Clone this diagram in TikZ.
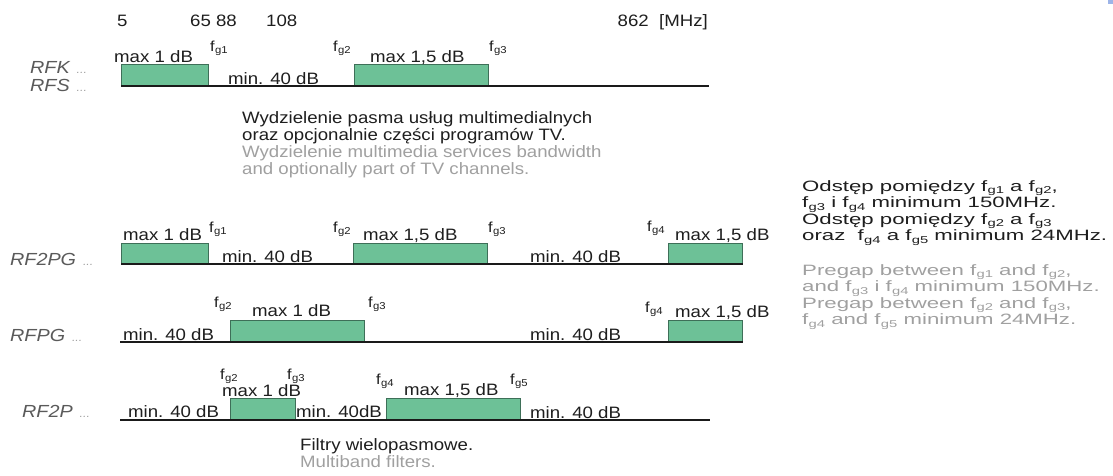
\documentclass[tikz,border=0pt]{standalone}
\usepackage{fontspec}
\setmainfont[FakeStretch=1.13]{Liberation Sans}
\newfontfamily\widefont[FakeStretch=1.48]{Liberation Sans}
\definecolor{ink}{HTML}{1E1E1E}
\definecolor{soft}{HTML}{A0A0A0}
\definecolor{rfc}{HTML}{5A5A5A}
\definecolor{bandfill}{HTML}{6DC197}
\definecolor{bandline}{HTML}{3E6F58}
\definecolor{axis}{HTML}{1A1A1A}
\definecolor{corner}{HTML}{9DB4E8}
\newcommand\fsub[1]{f\kern0.3pt\raisebox{-0.35ex}{\fontsize{10}{10}\selectfont g#1}}
\newcommand\rfdots{\textcolor{soft}{\fontsize{11}{11}\selectfont\ \ ...}}
\begin{document}
\begin{tikzpicture}[x=1pt,y=-1pt,
  tx/.style={anchor=base west,inner sep=0pt,text=ink,font=\fontsize{16.5}{18}\selectfont},
  sf/.style={tx,text=soft},
  nt/.style={anchor=base west,inner sep=0pt,text=ink,font=\widefont\fontsize{15}{17}\selectfont},
  nsf/.style={nt,text=soft},
  rflab/.style={anchor=base west,inner sep=0pt,text=rfc,font=\fontsize{17.5}{19}\selectfont\itshape},
  fl/.style={anchor=base west,inner sep=0pt,text=ink,font=\fontsize{14.5}{16}\selectfont},
  band/.style={draw=bandline,fill=bandfill,line width=0.7pt},
  axisline/.style={draw=axis,line width=2.6pt}]
\useasboundingbox (0,0) rectangle (1113,475);
\fill[corner] (1108,0) rectangle (1113,4);

% frequency scale
\node[tx] (n5) at (117,26) {5};
\node[tx] (n6588) at (190,26) {65 88};
\node[tx] (n108) at (266,26) {108};
\node[tx,anchor=base east] (n862) at (708,26) {862\ \ [MHz]};

% RFK / RFS
\node[rflab] (rfk) at (30,73) {RFK\rfdots};
\node[rflab] (rfs) at (30,91) {RFS\rfdots};
\draw[band] (121,64) rectangle (208,86);
\draw[band] (354,64) rectangle (488,86);
\coordinate (k0) at (121,86);
\coordinate (k1) at (709,86);
\draw[axisline] (k0) -- (k1);
\node[tx] (kmax1) at (114,62) {max 1 dB};
\node[fl] (kfg1) at (210,51) {\fsub1};
\node[tx] (kmin) at (228,84) {min. 40 dB};
\node[fl] (kfg2) at (333,51) {\fsub2};
\node[tx] (kmax2) at (370,62) {max 1,5 dB};
\node[fl] (kfg3) at (489,51) {\fsub3};

\node[tx] (pl1) at (242,123) {Wydzielenie pasma usług multimedialnych};
\node[tx] (pl2) at (242,140) {oraz opcjonalnie części programów TV.};
\node[sf] (en1) at (242,157) {Wydzielenie multimedia services bandwidth};
\node[sf] (en2) at (242,174) {and optionally part of TV channels.};

% RF2PG
\node[rflab] (rf2pg) at (10,265) {RF2PG\rfdots};
\draw[band] (121,243) rectangle (208,264);
\draw[band] (353,243) rectangle (487,264);
\draw[band] (668,243) rectangle (742,264);
\coordinate (a0) at (121,264);
\coordinate (a1) at (743,264);
\draw[axisline] (a0) -- (a1);
\node[tx] (amax1) at (123,240) {max 1 dB};
\node[fl] (afg1) at (209,232) {\fsub1};
\node[tx] (amin1) at (222,262) {min. 40 dB};
\node[fl] (afg2) at (333,232) {\fsub2};
\node[tx] (amax2) at (363,240) {max 1,5 dB};
\node[fl] (afg3) at (488,232) {\fsub3};
\node[tx] (amin2) at (530,262) {min. 40 dB};
\node[fl] (afg4) at (647,231) {\fsub4};
\node[tx] (amax3) at (675,240) {max 1,5 dB};

% RFPG
\node[rflab] (rfpg) at (10,341) {RFPG\rfdots};
\draw[band] (230,320) rectangle (364,342);
\draw[band] (668,320) rectangle (742,342);
\coordinate (b0) at (120,342);
\coordinate (b1) at (743,342);
\draw[axisline] (b0) -- (b1);
\node[tx] (bmin1) at (123,340) {min. 40 dB};
\node[fl] (bfg2) at (214,307) {\fsub2};
\node[tx] (bmax1) at (252,316) {max 1 dB};
\node[fl] (bfg3) at (368,307) {\fsub3};
\node[tx] (bmin2) at (530,340) {min. 40 dB};
\node[fl] (bfg4) at (645,312) {\fsub4};
\node[tx] (bmax2) at (675,317) {max 1,5 dB};

% RF2P
\node[rflab] (rf2p) at (22,417) {RF2P\rfdots};
\draw[band] (230,398) rectangle (295,420);
\draw[band] (386,398) rectangle (520,420);
\coordinate (c0) at (120,420);
\coordinate (c1) at (710,420);
\draw[axisline] (c0) -- (c1);
\node[tx] (cmin1) at (128,417) {min. 40 dB};
\node[fl] (cfg2) at (220,379) {\fsub2};
\node[tx] (cmax1) at (222,396) {max 1 dB};
\node[fl] (cfg3) at (287,379) {\fsub3};
\node[tx] (cmin2) at (296,417) {min. 40dB};
\node[fl] (cfg4) at (376,384) {\fsub4};
\node[tx] (cmax2) at (404,395) {max 1,5 dB};
\node[fl] (cfg5) at (510,384) {\fsub5};
\node[tx] (cmin3) at (530,418) {min. 40 dB};

\node[tx] (fw1) at (300,450) {Filtry wielopasmowe.};
\node[sf] (fw2) at (300,467) {Multiband filters.};

% notes
\node[nt] (r1) at (802,191) {Odstęp pomiędzy \fsub1 a \fsub2,};
\node[nt] (r2) at (802,207.5) {\fsub3 i \fsub4 minimum 150MHz.};
\node[nt] (r3) at (802,224) {Odstęp pomiędzy \fsub2 a \fsub3};
\node[nt] (r4) at (802,240.5) {oraz\ \ \fsub4 a \fsub5 minimum 24MHz.};
\node[nsf] (e1) at (802,275) {Pregap between \fsub1 and \fsub2,};
\node[nsf] (e2) at (802,291.5) {and \fsub3 i \fsub4 minimum 150MHz.};
\node[nsf] (e3) at (802,308) {Pregap between \fsub2 and \fsub3,};
\node[nsf] (e4) at (802,324.5) {\fsub4 and \fsub5 minimum 24MHz.};
\end{tikzpicture}
\end{document}
